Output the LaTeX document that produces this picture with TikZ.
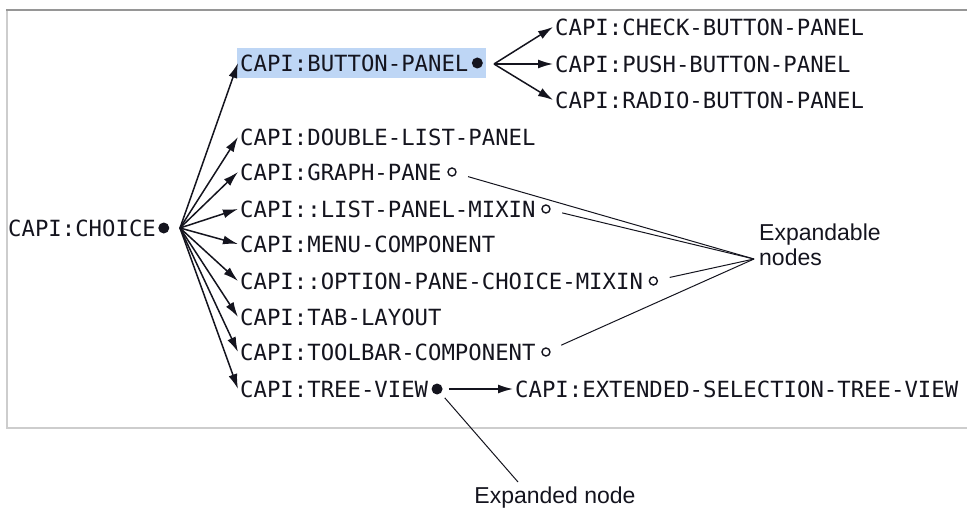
\documentclass[tikz,border=0pt]{standalone}
\usepackage{fontspec}
\setmainfont{Liberation Sans}
\setmonofont{DejaVu Sans Mono}
\usetikzlibrary{arrows.meta,positioning,fit,backgrounds}
\definecolor{ink}{RGB}{20,20,30}
\definecolor{hilite}{RGB}{190,214,245}
\definecolor{rim}{RGB}{205,205,205}
\definecolor{rimtop}{RGB}{150,150,150}
\tikzset{
  cls/.style={anchor=west,inner sep=0pt,text=ink,font=\ttfamily\fontsize{22.3}{24}\selectfont},
  full/.style={circle,fill=ink,inner sep=0pt,minimum size=11pt},
  hollow/.style={circle,draw=ink,line width=1.4pt,inner sep=0pt,minimum size=8pt},
  sub/.style={-{Latex[length=15pt,width=9pt]},line width=1.5pt,draw=ink},
  callout/.style={draw=ink,line width=1pt},
  note/.style={text=ink,inner sep=0pt,font=\fontsize{23}{25}\selectfont},
}

\begin{document}
\begin{tikzpicture}[x=1pt,y=1pt]
  \useasboundingbox (0,0) rectangle (967,-508);
  % frame of the browser pane
  \draw[rim,line width=2.5pt] (7,-10) -- (7,-428) -- (967,-428);
  \draw[rimtop,line width=2pt] (967,-10) -- (6,-10);

  % root class
  \node[cls] (ch) at (8,-228) {CAPI:CHOICE};
  \node[full,right=2pt of ch] (chd) {};
  \coordinate (cf) at (180,-228);

  % direct subclasses
  \node[cls] (bp) at (240,-63) {CAPI:BUTTON-PANEL};
  \foreach \n/\t/\y in {dl/CAPI:DOUBLE-LIST-PANEL/137,gp/CAPI:GRAPH-PANE/172,
      lp/CAPI::LIST-PANEL-MIXIN/209,mc/CAPI:MENU-COMPONENT/244,
      op/CAPI::OPTION-PANE-CHOICE-MIXIN/281,tl/CAPI:TAB-LAYOUT/317,
      tb/CAPI:TOOLBAR-COMPONENT/352,tv/CAPI:TREE-VIEW/389}
    \node[cls] (\n) at (240,-\y) {\t};
  \foreach \n in {bp,dl,gp,lp,mc,op,tl,tb,tv}
    \draw[sub] (cf) -- ([xshift=-2pt]\n.west);

  % markers
  \node[full,right=3pt of bp] (bpd) {};
  \node[full,right=3pt of tv] (tvd) {};
  \node[hollow,right=5.5pt of gp] (gpo) {};
  \node[hollow,right=5.5pt of lp] (lpo) {};
  \node[hollow,right=5.5pt of op] (opo) {};
  \node[hollow,right=5.5pt of tb] (tbo) {};

  % selected row
  \begin{scope}[on background layer]
    \node[fit=(bp)(bpd),fill=hilite,inner xsep=3pt,inner ysep=6pt] {};
  \end{scope}

  % expanded: button panel
  \coordinate (bf) at (494,-64);
  \node[cls] (ck) at (555,-27) {CAPI:CHECK-BUTTON-PANEL};
  \node[cls] (pb) at (555,-64) {CAPI:PUSH-BUTTON-PANEL};
  \node[cls] (rb) at (555,-100) {CAPI:RADIO-BUTTON-PANEL};
  \foreach \n in {ck,pb,rb}
    \draw[sub] (bf) -- ([xshift=-2pt]\n.west);

  % expanded: tree view
  \node[cls] (ext) at (515,-389) {CAPI:EXTENDED-SELECTION-TREE-VIEW};
  \draw[sub,shorten <=6pt] (tvd) -- ([xshift=-2pt]ext.west);

  % callouts
  \node[note,align=left,anchor=north west] (xn) at (759,-224) {Expandable\\nodes};
  \coordinate (xpt) at (754,-259);
  \foreach \o in {gpo,lpo,opo,tbo}
    \draw[callout,shorten <=12pt] (\o) -- (xpt);
  \node[note] (en) at (555,-498) {Expanded node};
  \coordinate (entip) at (518,-482);
  \draw[callout,shorten <=6pt] (tvd) -- (entip);
\end{tikzpicture}
\end{document}
